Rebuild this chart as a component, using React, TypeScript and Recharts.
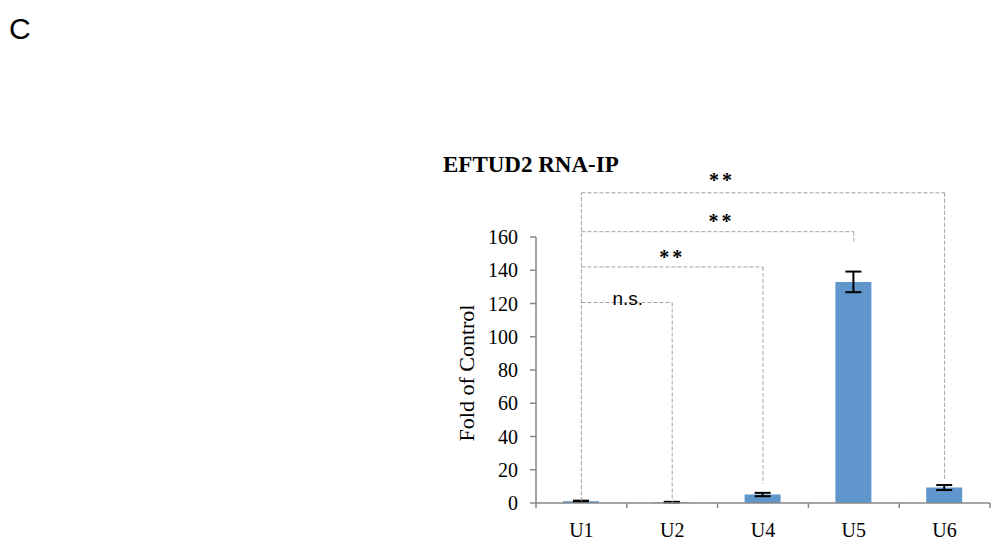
import React from 'react';
import { BarChart, Bar, XAxis, YAxis, ErrorBar, ReferenceLine } from 'recharts';

const categories = ['U1', 'U2', 'U4', 'U5', 'U6'];
const foldValues = [1.1, 0.5, 5.1, 133, 9.3];
const foldErrors = [0.3, 0.2, 1.0, 6.2, 1.5];
const yTicks = [0, 20, 40, 60, 80, 100, 120, 140, 160];

// significance brackets (data coordinates)
const bracketFrom = 'U1';
const bracketFromBottom = 1.1;
const bracketTo = ['U2', 'U4', 'U5', 'U6'];
const bracketLevel = [120.6, 142, 163.2, 186.6];
const bracketToBottom = [0.5, 11.7, 156.4, 14.1];
const bracketMark = ['n.s.', '**', '**', '**'];

const data = categories.map((c, i) => ({ name: c, value: foldValues[i], err: foldErrors[i] }));

// styles
const AXIS = '#878787';
const DASH = '#a3a3a3';
const SERIF = '"Liberation Serif", "Times New Roman", serif';
const SANS = '"Liberation Sans", Arial, sans-serif';
const markStyle = [
  { dx: 1, dy: 2, font: SANS, size: 19, weight: 'normal', spacing: 0 },
  { dx: 0, dy: -3, font: SERIF, size: 20, weight: 'bold', spacing: 3 },
  { dx: 4, dy: -4, font: SERIF, size: 20, weight: 'bold', spacing: 3 },
  { dx: -41, dy: -6, font: SERIF, size: 20, weight: 'bold', spacing: 3 },
];

const XTick = (props: any) => {
  const { x, y, payload, index, visibleTicksCount, width } = props;
  const n = visibleTicksCount || categories.length;
  const band = (width || 455) / n;
  return (
    <g>
      <line x1={x - band / 2} x2={x - band / 2} y1={y - 6} y2={y - 1} stroke={AXIS} strokeWidth={1.5} />
      {index === n - 1 && (
        <line x1={x + band / 2} x2={x + band / 2} y1={y - 6} y2={y - 1} stroke={AXIS} strokeWidth={1.5} />
      )}
      <text x={x} y={y + 28} textAnchor="middle" fill="#000" fontSize={20} fontFamily={SERIF}>
        {payload.value}
      </text>
    </g>
  );
};

const YLabel = (p: any) => {
  const vb = p.viewBox || {};
  const cx = (vb.x || 0) + (vb.width || 0) / 2;
  const cy = (vb.y || 0) + (vb.height || 0) / 2 + 3;
  return (
    <text
      x={cx}
      y={cy}
      transform={`rotate(-90, ${cx}, ${cy})`}
      textAnchor="middle"
      dominantBaseline="central"
      fill="#000"
      fontSize={22}
      fontFamily={SERIF}
    >
      Fold of Control
    </text>
  );
};

const markLabel = (i: number) => (p: any) => {
  const vb = p.viewBox || {};
  const s = markStyle[i];
  const cx = (vb.x || 0) + (vb.width || 0) / 2 + s.dx;
  const cy = (vb.y || 0) + s.dy;
  return (
    <text
      x={cx}
      y={cy}
      textAnchor="middle"
      fill="#000"
      fontSize={s.size}
      fontWeight={s.weight}
      letterSpacing={s.spacing}
      fontFamily={s.font}
    >
      {bracketMark[i]}
    </text>
  );
};

export default function App() {
  return (
    <div style={{ position: 'absolute', left: 0, top: 0, width: 996, height: 550, background: '#fff' }}>
      <BarChart
        width={996}
        height={550}
        data={data}
        margin={{ top: 237, right: 6, bottom: 7, left: 396 }}
      >
        <XAxis
          dataKey="name"
          height={40}
          tickSize={6}
          tickMargin={0}
          tickLine={false}
          axisLine={{ stroke: AXIS, strokeWidth: 1.5 }}
          tick={<XTick />}
          interval={0}
        />
        <YAxis
          width={140}
          domain={[0, 160]}
          ticks={yTicks}
          tickSize={6}
          tickMargin={12}
          axisLine={{ stroke: AXIS, strokeWidth: 1.5 }}
          tickLine={{ stroke: AXIS, strokeWidth: 1.5 }}
          tick={{ fill: '#000', fontSize: 20, fontFamily: SERIF }}
          label={{ content: YLabel }}
        />
        <Bar dataKey="value" fill="#5f96cb" barSize={36} isAnimationActive={false}>
          <ErrorBar dataKey="err" width={8} stroke="#000" strokeWidth={2} direction="y" />
        </Bar>
        <ReferenceLine
          segment={[{ x: bracketFrom, y: bracketFromBottom }, { x: bracketFrom, y: bracketLevel[3] }]}
          stroke={DASH}
          strokeDasharray="4 2"
          ifOverflow="visible"
        />
        {bracketTo.map((to, i) => (
          <ReferenceLine
            key={'h' + i}
            segment={[{ x: bracketFrom, y: bracketLevel[i] }, { x: to, y: bracketLevel[i] }]}
            stroke={DASH}
            strokeDasharray="4 2"
            ifOverflow="visible"
            label={markLabel(i)}
          />
        ))}
        {bracketTo.map((to, i) => (
          <ReferenceLine
            key={'v' + i}
            segment={[{ x: to, y: bracketLevel[i] }, { x: to, y: bracketToBottom[i] }]}
            stroke={DASH}
            strokeDasharray="4 2"
            ifOverflow="visible"
          />
        ))}
      </BarChart>
      <svg width={996} height={550} style={{ position: 'absolute', left: 0, top: 0, pointerEvents: 'none' }}>
        <text x={9} y={39} fontSize={30} fontFamily={SANS} fill="#000">C</text>
        <text x={443} y={172} fontSize={23} fontWeight="bold" fontFamily={SERIF} fill="#000">EFTUD2 RNA-IP</text>
      </svg>
    </div>
  );
}
